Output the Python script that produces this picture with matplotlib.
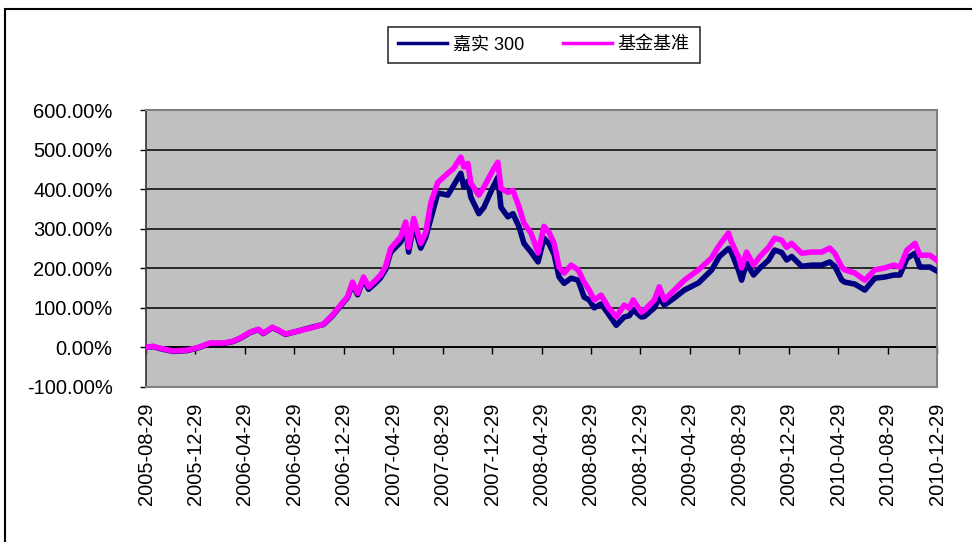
import matplotlib

matplotlib.use("Agg")
import matplotlib.pyplot as plt
from matplotlib.patches import Rectangle
from matplotlib.ticker import FuncFormatter


# months since 2005-08-29 (one tick label every 4 months)
months = [
    0, 0.57, 1.14, 2.19, 3.33, 4.22, 5.19, 6.25, 7.06, 7.63,
    8.44, 9.09, 9.49, 10.22, 10.71, 11.28, 12.25, 13.55, 14.36, 15.09,
    15.74, 16.31, 16.71, 17.12, 17.60, 18.01, 18.58, 18.98, 19.39, 19.79,
    20.60, 21.01, 21.25, 21.66, 22.23, 22.63, 23.04, 23.61, 24.42, 24.90,
    25.47, 25.72, 26.04, 26.28, 26.93, 27.34, 28.07, 28.47, 28.72, 29.28,
    29.69, 30.18, 30.58, 31.15, 31.72, 32.20, 32.61, 33.02, 33.42, 33.83,
    34.40, 34.96, 35.45, 35.86, 36.26, 36.83, 37.40, 38.05, 38.69, 39.10,
    39.42, 40.07, 40.32, 41.13, 41.53, 41.94, 42.75, 43.56, 44.70, 45.75,
    46.40, 47.13, 47.37, 47.94, 48.19, 48.59, 49.16, 49.65, 50.38, 50.86,
    51.43, 51.84, 52.24, 53.05, 53.86, 54.67, 55.32, 55.73, 56.30, 56.54,
    57.35, 58.16, 58.97, 59.79, 60.52, 61.00, 61.57, 62.22, 62.62, 63.43,
    64.00,
]

# 基金基准 (%)
benchmark = [
    0, 3, -2, -9, -7, 0, 11, 11, 16, 24,
    39, 46, 36, 51, 44, 34, 41, 51, 59, 82,
    107, 128, 165, 137, 178, 153, 170, 183, 205, 250,
    279, 317, 253, 326, 263, 290, 365, 417, 440, 453,
    481, 456, 465, 415, 385, 405, 448, 468, 402, 392,
    397, 355, 314, 289, 239, 306, 291, 263, 203, 188,
    208, 196, 165, 145, 120, 132, 102, 77, 107, 99,
    120, 89, 94, 120, 153, 120, 145, 170, 196, 226,
    259, 289, 266, 229, 201, 241, 208, 229, 253, 276,
    271, 253, 263, 238, 241, 241, 251, 238, 203, 196,
    188, 170, 196, 201, 208, 203, 246, 263, 233, 233,
    220,
]

# 嘉实 300 (%)
fund = [
    0, 2, -3, -10, -8, -1, 10, 10, 15, 23,
    38, 45, 35, 50, 43, 33, 41, 52, 58, 80,
    105, 126, 160, 133, 172, 147, 163, 176, 197, 240,
    266, 300, 241, 310, 251, 278, 325, 390, 385, 410,
    440, 405, 420, 380, 338, 354, 405, 430, 354, 330,
    338, 305, 263, 241, 216, 276, 262, 235, 178, 162,
    175, 170, 127, 120, 100, 110, 85, 56, 77, 80,
    95, 77, 78, 100, 125, 107, 125, 145, 163, 195,
    230, 250, 240, 195, 170, 213, 183, 200, 221, 246,
    240, 221, 230, 205, 208, 208, 216, 205, 170, 165,
    160, 145, 175, 178, 183, 183, 225, 238, 203, 203,
    193,
]

tick_months = list(range(0, 65, 4))
tick_labels = [
    "2005-08-29", "2005-12-29", "2006-04-29", "2006-08-29", "2006-12-29",
    "2007-04-29", "2007-08-29", "2007-12-29", "2008-04-29", "2008-08-29",
    "2008-12-29", "2009-04-29", "2009-08-29", "2009-12-29", "2010-04-29",
    "2010-08-29", "2010-12-29",
]
y_ticks = [-100, 0, 100, 200, 300, 400, 500, 600]

plt.rcParams["font.family"] = ["Liberation Sans", "Noto Sans CJK SC", "DejaVu Sans"]

fig = plt.figure(figsize=(9.72, 5.42), dpi=100)
ax = fig.add_axes([146 / 972, 1 - 387 / 542, 791 / 972, 277 / 542])
ax.set_facecolor("#c0c0c0")

ax.plot(months, fund, color="#000080", linewidth=4, label="嘉实 300", zorder=3,
        solid_joinstyle="round")
ax.plot(months, benchmark, color="#ff00ff", linewidth=4, label="基金基准", zorder=4,
        solid_joinstyle="round")

ax.set_xlim(0, 64)
ax.set_ylim(-100, 600)
ax.set_yticks(y_ticks)
ax.yaxis.set_major_formatter(FuncFormatter(lambda v, p: f"{v:.2f}%"))
ax.grid(True, axis="y", color="black", linewidth=1.1, zorder=1)
ax.set_axisbelow(True)

ax.set_xticks(tick_months)
ax.set_xticklabels(tick_labels, rotation=90, va="top", ha="center")
ax.tick_params(axis="x", length=0, pad=11, labelsize=14.5, colors="black")
ax.tick_params(axis="y", direction="out", length=4, pad=20, labelsize=14.5, width=1)

for side in ["top", "right", "bottom"]:
    ax.spines[side].set_color("#808080")
    ax.spines[side].set_linewidth(1.5)
ax.spines["left"].set_color("#404040")
ax.spines["left"].set_linewidth(1.3)

# category axis crossing at 0%
sec = ax.secondary_xaxis(1 / 7)
sec.set_xticks(tick_months)
sec.tick_params(axis="x", direction="out", length=5, width=1, labelbottom=False)
sec.spines["bottom"].set_color("black")
sec.spines["bottom"].set_linewidth(1.2)

leg = fig.legend(
    loc="center",
    bbox_to_anchor=(544 / 972, 1 - 45 / 542),
    ncol=2,
    frameon=True,
    fancybox=False,
    edgecolor="black",
    fontsize=13,
    handlelength=2.7,
    handletextpad=0.3,
    columnspacing=2.2,
    borderpad=0.55,
)
leg.get_frame().set_linewidth(1.2)
for line in leg.get_lines():
    line.set_linewidth(2.5)

# outer chart frame
fig.patches.append(
    Rectangle((5 / 972, -0.1), 1.2, 1.1 - 9 / 542, transform=fig.transFigure,
              fill=False, edgecolor="black", linewidth=1.5)
)

fig.savefig("out.png", dpi=100)
plt.close(fig)
